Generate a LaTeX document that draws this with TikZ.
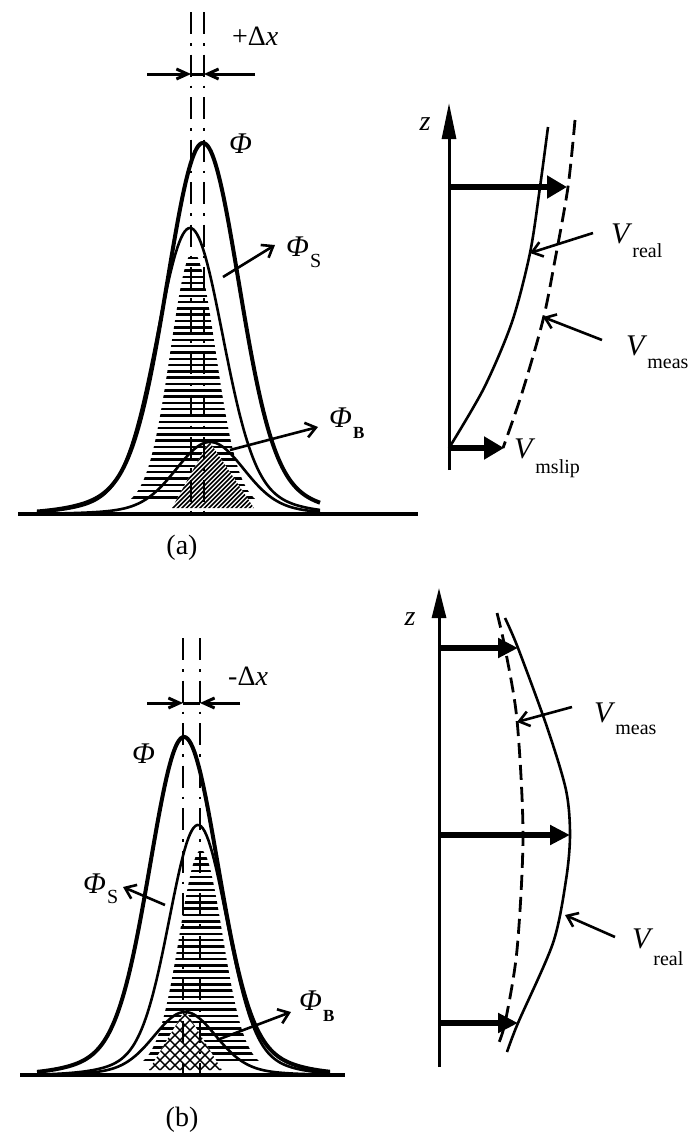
\documentclass[tikz,border=0pt]{standalone}
\usepackage{fontspec}
\setmainfont{Liberation Serif}
\usetikzlibrary{arrows.meta}
\newcommand{\Vsub}[2][15pt]{\textit{V}\raisebox{-#1}{\fontsize{20}{20}\selectfont #2}}
\newcommand{\Phisub}[3][11pt]{\textit{Φ}\kern1pt\raisebox{-#1}{\fontsize{#2}{#2}\selectfont #3}}
\begin{document}
\begin{tikzpicture}[x=1pt,y=-1pt,
  declare function={pk(\u)=0.89*exp(-min(\u*\u/2,9))+0.11*exp(-min(\u*\u/8,9));},
  lbl/.style={inner sep=0pt,anchor=base west,font=\fontsize{30}{30}\selectfont},
  capl/.style={inner sep=0pt,font=\fontsize{28}{28}\selectfont},
  phithick/.style={line width=4pt},
  phithin/.style={line width=2.6pt},
  hatchline/.style={line width=2.5pt},
  dhatch/.style={line width=1.6pt},
  xhatch/.style={line width=1.4pt},
  centerline/.style={line width=2.8pt,dash pattern=on 22pt off 9pt on 2.5pt off 9pt},
  baseline/.style={line width=3.2pt},
  dimline/.style={line width=3pt},
  dimtip/.style={-{Straight Barb[length=11pt,width=10pt]}},
  ptr/.style={line width=2.6pt,-{Straight Barb[length=10pt,width=15pt]}},
  axis/.style={line width=3pt},
  velarrow/.style={line width=5.5pt},
  vcurve/.style={line width=2.6pt},
  vdash/.style={line width=2.8pt,dash pattern=on 15pt off 7pt}]
\useasboundingbox (0,0) rectangle (700,1146);
\fill[white] (0,0) rectangle (700,1146);

% ================= panel (a), left =================
\begin{scope}
  \clip plot[domain=100:290,samples=100] (\x,{514-262*pk((\x-193)/22)}) -- cycle;
  \foreach \yy in {258,264.3,...,502} \draw[hatchline] (90,\yy) -- (300,\yy);
\end{scope}
\fill[white] (209,441) -- (172,508) -- (254,508) -- cycle;
\begin{scope}
  \clip (209,441) -- (172,508) -- (254,508) -- cycle;
  \foreach \k in {80,84.5,...,262} \draw[dhatch] (\k,520) -- ++(90,-90);
\end{scope}
\coordinate (a1t) at (191,12); \coordinate (a1b) at (191,514);
\coordinate (a2t) at (204,12); \coordinate (a2b) at (204,514);
\draw[centerline] (a1t) -- (a1b);
\draw[centerline] (a2t) -- (a2b);
\coordinate (adl) at (147,74); \coordinate (adr) at (255,74);
\coordinate (adl2) at (191,74); \coordinate (adr2) at (204,74);
\draw[dimline] (adl2) -- (adr2);
\draw[dimline,dimtip] (adl) -- (adl2);
\draw[dimline,dimtip] (adr) -- (adr2);
\node[lbl,font=\fontsize{28}{28}\selectfont] (dxa) at (232,45) {+Δ\textit{x}};
\draw[phithin] plot[domain=37:320,samples=160] (\x,{514-72*pk((\x-210)/33)});
\draw[phithin] plot[domain=37:320,samples=160] (\x,{514-286*pk((\x-190)/32)});
\draw[phithick] plot[domain=37:320,samples=180] (\x,{514-371*pk((\x-203)/35)});
\coordinate (abl) at (18,514); \coordinate (abr) at (418,514);
\draw[baseline] (abl) -- (abr);
\node[lbl] (phiA) at (229,153) {\textit{Φ}};
\node[lbl] (phiSA) at (286,256) {\Phisub{20}{S}};
\node[lbl] (phiBA) at (329,427) {\Phisub{17}{\bfseries B}};
\coordinate (sA0) at (223,277); \coordinate (sA1) at (275,245);
\coordinate (bA0) at (230,450); \coordinate (bA1) at (318,427);
\draw[ptr] (sA0) -- (sA1);
\draw[ptr] (bA0) -- (bA1);
\node[capl] (capA) at (182,548) {(a)};

% ================= panel (a), right =================
\coordinate (zA0) at (449,470); \coordinate (zA1) at (449,103);
\draw[axis,-{Triangle[length=36pt,width=14pt]}] (zA0) -- (zA1);
\node[capl,font=\fontsize{28}{28}\selectfont\itshape] (zA) at (425,124) {z};
\draw[vcurve] plot[smooth] coordinates {(548,127) (540,187) (530,253) (512,322) (484,388) (449,448)};
\draw[vdash] plot[smooth] coordinates {(575,120) (568,187) (555,260) (543,320) (522,393) (503,448)};
\coordinate (vA1s) at (449,187); \coordinate (vA1e) at (567,187);
\coordinate (vA2s) at (449,448); \coordinate (vA2e) at (504,448);
\draw[velarrow,-{Triangle[length=20pt,width=22pt]}] (vA1s) -- (vA1e);
\draw[velarrow,-{Triangle[length=20pt,width=22pt]}] (vA2s) -- (vA2e);
\coordinate (rA0) at (593,233); \coordinate (rA1) at (530,253);
\coordinate (mA0) at (602,340); \coordinate (mA1) at (543,317);
\draw[ptr] (rA0) -- (rA1);
\draw[ptr] (mA0) -- (mA1);
\node[lbl] (vrealA) at (611,243) {\Vsub[14pt]{real}};
\node[lbl] (vmeasA) at (626,355) {\Vsub[13pt]{meas}};
\node[lbl] (vslipA) at (514,458) {\Vsub[15pt]{mslip}};

% ================= panel (b), left =================
\begin{scope}
  \clip plot[domain=100:300,samples=100] (\x,{1075-225*pk((\x-201)/21)}) -- cycle;
  \foreach \yy in {852,858.3,...,1065} \draw[hatchline] (90,\yy) -- (310,\yy);
\end{scope}
\fill[white] (185,1010) -- (149,1070) -- (222,1070) -- cycle;
\begin{scope}
  \clip (185,1010) -- (149,1070) -- (222,1070) -- cycle;
  \foreach \k in {50,60,...,240} {\draw[xhatch] (\k,1080) -- ++(100,-100); \draw[xhatch] (\k,990) -- ++(100,100);}
\end{scope}
\coordinate (b1t) at (183,638); \coordinate (b1b) at (183,1075);
\coordinate (b2t) at (200,638); \coordinate (b2b) at (200,1075);
\draw[centerline] (b1t) -- (b1b);
\draw[centerline] (b2t) -- (b2b);
\coordinate (bdl) at (147,703); \coordinate (bdr) at (240,703);
\coordinate (bdl2) at (183,703); \coordinate (bdr2) at (200,703);
\draw[dimline] (bdl2) -- (bdr2);
\draw[dimline,dimtip] (bdl) -- (bdl2);
\draw[dimline,dimtip] (bdr) -- (bdr2);
\node[lbl,font=\fontsize{28}{28}\selectfont] (dxb) at (228,685) {-Δ\textit{x}};
\draw[phithin] plot[domain=37:330,samples=160] (\x,{1075-63*pk((\x-185)/30)});
\draw[phithin] plot[domain=37:330,samples=160] (\x,{1075-250*pk((\x-198)/28)});
\draw[phithick] plot[domain=37:330,samples=180] (\x,{1075-338*pk((\x-184)/33)});
\coordinate (bbl) at (20,1075); \coordinate (bbr) at (345,1075);
\draw[baseline] (bbl) -- (bbr);
\node[lbl] (phiB) at (132,763) {\textit{Φ}};
\node[lbl] (phiSB) at (83,893) {\Phisub[10pt]{20}{S}};
\node[lbl] (phiBB) at (299,1010) {\Phisub{17}{\bfseries B}};
\coordinate (sB0) at (165,905); \coordinate (sB1) at (123,887);
\coordinate (bB0) at (217,1040); \coordinate (bB1) at (291,1012);
\draw[ptr] (sB0) -- (sB1);
\draw[ptr] (bB0) -- (bB1);
\node[capl] (capB) at (182,1120) {(b)};

% ================= panel (b), right =================
\coordinate (zB0) at (439,1067); \coordinate (zB1) at (439,588);
\draw[axis,-{Triangle[length=30pt,width=14pt]}] (zB0) -- (zB1);
\node[capl,font=\fontsize{28}{28}\selectfont\itshape] (zB) at (410,619) {z};
\draw[vcurve] plot[smooth] coordinates {(505,618) (518,648) (547,727) (566,790) (570,835) (566,880) (553,943) (518,1023) (507,1052)};
\draw[vdash] plot[smooth] coordinates {(497,613) (505,648) (517,720) (523,835) (517,950) (505,1023) (497,1047)};
\coordinate (vB1s) at (439,648); \coordinate (vB1e) at (518,648);
\coordinate (vB2s) at (439,835); \coordinate (vB2e) at (570,835);
\coordinate (vB3s) at (439,1023); \coordinate (vB3e) at (518,1023);
\draw[velarrow,-{Triangle[length=20pt,width=19pt]}] (vB1s) -- (vB1e);
\draw[velarrow,-{Triangle[length=20pt,width=19pt]}] (vB2s) -- (vB2e);
\draw[velarrow,-{Triangle[length=20pt,width=19pt]}] (vB3s) -- (vB3e);
\coordinate (mB0) at (572,707); \coordinate (mB1) at (517,722);
\coordinate (rB0) at (615,937); \coordinate (rB1) at (565,915);
\draw[ptr] (mB0) -- (mB1);
\draw[ptr] (rB0) -- (rB1);
\node[lbl] (vmeasB) at (594,722) {\Vsub[12pt]{meas}};
\node[lbl] (vrealB) at (632,948) {\Vsub[17pt]{real}};
\end{tikzpicture}
\end{document}
